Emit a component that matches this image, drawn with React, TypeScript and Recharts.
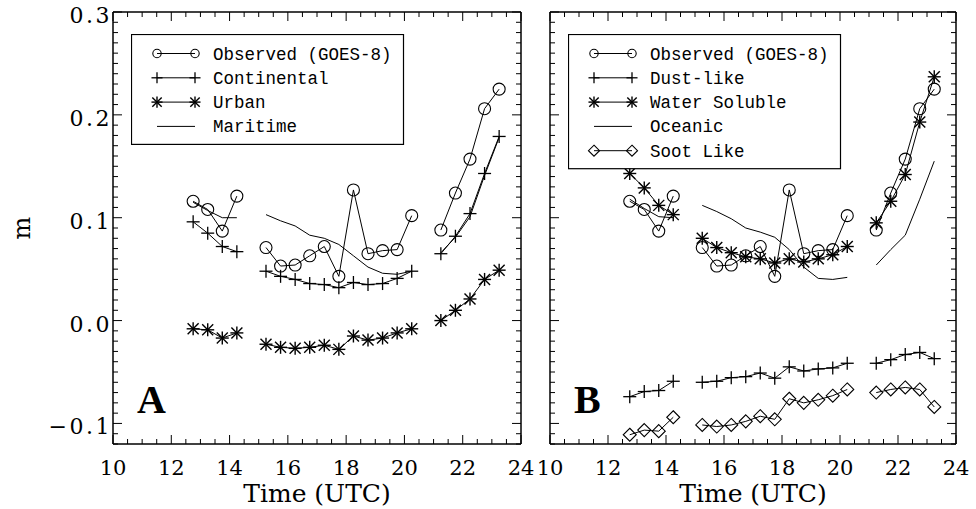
import React from 'react';
import { LineChart, Line, XAxis, YAxis, Legend } from 'recharts';

// ---------------- data ----------------
const times = [12.75, 13.25, 13.75, 14.25, 14.75, 15.25, 15.75, 16.25, 16.75, 17.25, 17.75, 18.25, 18.75, 19.25, 19.75, 20.25, 20.75, 21.25, 21.75, 22.25, 22.75, 23.25];

const observed = [0.116, 0.108, 0.087, 0.121, null, 0.071, 0.053, 0.054, 0.063, 0.072, 0.043, 0.127, 0.065, 0.068, 0.069, 0.102, null, 0.088, 0.124, 0.157, 0.206, 0.225];
const continental = [0.096, 0.085, 0.072, 0.067, null, 0.048, 0.043, 0.040, 0.036, 0.035, 0.032, 0.037, 0.035, 0.036, 0.041, 0.048, null, 0.065, 0.082, 0.104, 0.143, 0.179];
const urban = [-0.008, -0.009, -0.017, -0.012, null, -0.023, -0.026, -0.027, -0.026, -0.024, -0.028, -0.015, -0.019, -0.017, -0.012, -0.008, null, 0.000, 0.010, 0.021, 0.040, 0.049];
const maritime = [0.115, 0.107, 0.100, 0.100, null, 0.103, 0.097, 0.092, 0.083, 0.080, 0.074, 0.063, 0.052, 0.046, 0.045, 0.048, null, 0.066, 0.081, 0.101, 0.141, 0.178];

const dustLike = [-0.074, -0.069, -0.068, -0.059, null, -0.060, -0.059, -0.0555, -0.0545, -0.051, -0.056, -0.045, -0.049, -0.047, -0.046, -0.0415, null, -0.0415, -0.038, -0.033, -0.031, -0.037];
const waterSoluble = [0.143, 0.129, 0.112, 0.103, null, 0.080, 0.071, 0.066, 0.062, 0.060, 0.056, 0.060, 0.057, 0.060, 0.064, 0.072, null, 0.095, 0.116, 0.142, 0.193, 0.237];
const oceanic = [0.118, 0.109, 0.101, 0.100, null, 0.112, 0.106, 0.099, 0.090, 0.086, 0.081, 0.069, 0.052, 0.041, 0.040, 0.042, null, 0.054, 0.069, 0.083, 0.118, 0.155];
const sootLike = [-0.111, -0.1065, -0.1075, -0.094, null, -0.1015, -0.103, -0.1015, -0.098, -0.093, -0.096, -0.076, -0.080, -0.077, -0.073, -0.067, null, -0.070, -0.067, -0.065, -0.067, -0.084];

const xMajorTicks = [10, 12, 14, 16, 18, 20, 22, 24];
const xTickLabels = ['10', '12', '14', '16', '18', '20', '22', '24'];
const yMajorTicks = [-0.1, 0.0, 0.1, 0.2, 0.3];
const yTickLabels = ['\u22120.1', '0.0', '0.1', '0.2', '0.3'];

const leftLegend = [
  { label: 'Observed (GOES-8)', marker: 'circle' },
  { label: 'Continental', marker: 'plus' },
  { label: 'Urban', marker: 'star' },
  { label: 'Maritime', marker: 'none' },
];
const rightLegend = [
  { label: 'Observed (GOES-8)', marker: 'circle' },
  { label: 'Dust-like', marker: 'plus' },
  { label: 'Water Soluble', marker: 'star' },
  { label: 'Oceanic', marker: 'none' },
  { label: 'Soot Like', marker: 'diamond' },
];

// ---------------- layout ----------------
const W = 976;
const H = 509;
const TOP = 12;
const BOTTOM = 444;
const LP = { left: 113, right: 521 };
const RP = { left: 550, right: 956 };
const X_DOMAIN: [number, number] = [10, 24];
const Y_DOMAIN: [number, number] = [-0.12, 0.3];

const xMinor = Array.from({ length: 29 }, (_, i) => 10 + i * 0.5);
const yMinor = Array.from({ length: 43 }, (_, i) => Math.round((-0.12 + i * 0.01) * 100) / 100);

const SERIF = 'DejaVu Serif, serif';
const MONO = 'Liberation Mono, monospace';

const rows = times.map((t, i) => ({
  t,
  observed: observed[i],
  continental: continental[i],
  urban: urban[i],
  maritime: maritime[i],
  dustLike: dustLike[i],
  waterSoluble: waterSoluble[i],
  oceanic: oceanic[i],
  sootLike: sootLike[i],
}));

// ---------------- markers ----------------
function Marker({ cx, cy, kind, k = 1 }: { cx: number; cy: number; kind: string; k?: number }) {
  const sw = 1.1;
  if (kind === 'circle') return <circle cx={cx} cy={cy} r={6 * k} fill="none" stroke="#000" strokeWidth={sw} />;
  if (kind === 'plus') {
    const s = 6.5 * k;
    return (
      <g stroke="#000" strokeWidth={1.3}>
        <line x1={cx - s} x2={cx + s} y1={cy} y2={cy} />
        <line x1={cx} x2={cx} y1={cy - s} y2={cy + s} />
      </g>
    );
  }
  if (kind === 'star') {
    const s = 6.5 * k;
    const d = 5.5 * k;
    return (
      <g stroke="#000" strokeWidth={1.4}>
        <line x1={cx - s} x2={cx + s} y1={cy} y2={cy} />
        <line x1={cx} x2={cx} y1={cy - s} y2={cy + s} />
        <line x1={cx - d} x2={cx + d} y1={cy - d} y2={cy + d} />
        <line x1={cx - d} x2={cx + d} y1={cy + d} y2={cy - d} />
      </g>
    );
  }
  if (kind === 'diamond') {
    const s = 6.5 * k;
    return (
      <polygon
        points={`${cx},${cy - s} ${cx + s},${cy} ${cx},${cy + s} ${cx - s},${cy}`}
        fill="none"
        stroke="#000"
        strokeWidth={sw}
      />
    );
  }
  return <g />;
}

const dotFor = (kind: string) => (p: any) => {
  const key = `d-${kind}-${p.index}`;
  if (p.value == null || p.cy == null || isNaN(p.cy)) return <g key={key} />;
  return (
    <g key={key}>
      <Marker cx={p.cx} cy={p.cy} kind={kind} />
    </g>
  );
};

// ---------------- ticks ----------------
const isMajorX = (v: number) => xMajorTicks.some((m) => Math.abs(m - v) < 1e-6);
const isMajorY = (v: number) => yMajorTicks.some((m) => Math.abs(m - v) < 1e-6);

const bottomTick = (showLabel: boolean) => (p: any) => {
  const v = p.payload.value;
  const major = isMajorX(v);
  const idx = xMajorTicks.findIndex((m) => Math.abs(m - v) < 1e-6);
  return (
    <g>
      <line x1={p.x} x2={p.x} y1={BOTTOM} y2={BOTTOM - (major ? 9 : 5)} stroke="#000" strokeWidth={1} />
      {showLabel && major && (
        <text x={p.x} y={BOTTOM + 31} textAnchor="middle" fontFamily={SERIF} fontSize={21} fill="#000">
          {xTickLabels[idx]}
        </text>
      )}
    </g>
  );
};

const topTick = (p: any) => {
  const major = isMajorX(p.payload.value);
  return <line x1={p.x} x2={p.x} y1={TOP} y2={TOP + (major ? 9 : 5)} stroke="#000" strokeWidth={1} />;
};

const leftTick = (axisX: number, showLabel: boolean) => (p: any) => {
  const v = p.payload.value;
  const major = isMajorY(v);
  const idx = yMajorTicks.findIndex((m) => Math.abs(m - v) < 1e-6);
  return (
    <g>
      <line x1={axisX} x2={axisX + (major ? 9 : 5)} y1={p.y} y2={p.y} stroke="#000" strokeWidth={1} />
      {showLabel && major && (
        <text
          x={axisX - 1}
          y={p.y + 11}
          textAnchor="end"
          fontFamily={SERIF}
          fontSize={22}
          letterSpacing={2.5}
          fill="#000"
        >
          {yTickLabels[idx]}
        </text>
      )}
    </g>
  );
};

const rightTick = (axisX: number) => (p: any) => {
  const major = isMajorY(p.payload.value);
  return <line x1={axisX} x2={axisX - (major ? 9 : 5)} y1={p.y} y2={p.y} stroke="#000" strokeWidth={1} />;
};

// ---------------- legend ----------------
function LegendBox({ items, width }: { items: { label: string; marker: string }[]; width: number }) {
  const rowH = 24.3;
  const height = 19 + (items.length - 1) * rowH + 18;
  return (
    <svg width={width + 2} height={height + 2} style={{ display: 'block' }}>
      <rect x={0.5} y={0.5} width={width} height={height} fill="#fff" stroke="#000" strokeWidth={1.2} />
      {items.map((it, i) => {
        const y = 19.5 + i * rowH;
        return (
          <g key={it.label}>
            <line x1={26} x2={64} y1={y} y2={y} stroke="#000" strokeWidth={1} />
            {it.marker !== 'none' && <Marker cx={26} cy={y} kind={it.marker} k={it.marker === 'circle' ? 0.7 : 0.85} />}
            {it.marker !== 'none' && <Marker cx={64} cy={y} kind={it.marker} k={it.marker === 'circle' ? 0.7 : 0.85} />}
            <text x={82} y={y + 6} fontFamily={MONO} fontSize={17.5} fill="#000">
              {it.label}
            </text>
          </g>
        );
      })}
    </svg>
  );
}

// ---------------- panel ----------------
type SeriesDef = { key: string; marker: string };

const AX = 1; // axis band thickness (must be > 0 for recharts to draw it)

function Panel({
  plot,
  series,
  legendItems,
  letter,
  showYLabels,
}: {
  plot: { left: number; right: number };
  series: SeriesDef[];
  legendItems: { label: string; marker: string }[];
  letter: string;
  showYLabels: boolean;
}) {
  const axisLine = { stroke: '#000', strokeWidth: 1.5 };
  return (
    <div style={{ position: 'absolute', left: 0, top: 0, width: W, height: H }}>
      <LineChart
        width={W}
        height={H}
        data={rows}
        margin={{ top: TOP - AX, bottom: H - BOTTOM - AX, left: plot.left - AX, right: W - plot.right - AX }}
      >
        <XAxis
          xAxisId="b"
          dataKey="t"
          type="number"
          domain={X_DOMAIN}
          allowDataOverflow
          ticks={xMinor}
          interval={0}
          height={AX}
          tickSize={0}
          tickMargin={0}
          tickLine={false}
          axisLine={axisLine}
          tick={bottomTick(true)}
        />
        <XAxis
          xAxisId="t"
          orientation="top"
          dataKey="t"
          type="number"
          domain={X_DOMAIN}
          allowDataOverflow
          ticks={xMinor}
          interval={0}
          height={AX}
          tickSize={0}
          tickMargin={0}
          tickLine={false}
          axisLine={axisLine}
          tick={topTick}
        />
        <YAxis
          yAxisId="l"
          type="number"
          domain={Y_DOMAIN}
          allowDataOverflow
          ticks={yMinor}
          interval={0}
          width={AX}
          tickSize={0}
          tickMargin={0}
          tickLine={false}
          axisLine={axisLine}
          tick={leftTick(plot.left, showYLabels)}
        />
        <YAxis
          yAxisId="r"
          orientation="right"
          type="number"
          domain={Y_DOMAIN}
          allowDataOverflow
          ticks={yMinor}
          interval={0}
          width={AX}
          tickSize={0}
          tickMargin={0}
          tickLine={false}
          axisLine={axisLine}
          tick={rightTick(plot.right)}
        />
        <Legend
          layout="vertical"
          align="center"
          verticalAlign="middle"
          wrapperStyle={{ left: plot.left + 18, top: 34, width: 276, height: 140 }}
          content={() => <LegendBox items={legendItems} width={272} />}
        />
        {series.map((s) => (
          <Line
            key={s.key}
            xAxisId="b"
            yAxisId="l"
            dataKey={s.key}
            type="linear"
            stroke="#000"
            strokeWidth={1}
            connectNulls={false}
            isAnimationActive={false}
            activeDot={false}
            dot={s.marker === 'none' ? false : dotFor(s.marker)}
          />
        ))}
      </LineChart>
      <svg width={W} height={H} style={{ position: 'absolute', left: 0, top: 0, pointerEvents: 'none' }}>
        <text
          x={(plot.left + plot.right) / 2}
          y={502}
          textAnchor="middle"
          fontFamily={SERIF}
          fontSize={25}
          fill="#000"
        >
          Time (UTC)
        </text>
        <text x={plot.left + 24} y={413} fontFamily="Liberation Serif, serif" fontWeight="bold" fontSize={40} fill="#000">
          {letter}
        </text>
        {showYLabels && (
          <text
            x={30}
            y={228}
            textAnchor="middle"
            fontFamily={SERIF}
            fontSize={24}
            fill="#000"
            transform="rotate(-90 30 228)"
          >
            m
          </text>
        )}
      </svg>
    </div>
  );
}

export default function App() {
  return (
    <div style={{ position: 'fixed', left: 0, top: 0, width: W, height: H, background: '#fff', overflow: 'hidden' }}>
      <Panel
        plot={LP}
        letter="A"
        showYLabels
        legendItems={leftLegend}
        series={[
          { key: 'observed', marker: 'circle' },
          { key: 'continental', marker: 'plus' },
          { key: 'urban', marker: 'star' },
          { key: 'maritime', marker: 'none' },
        ]}
      />
      <Panel
        plot={RP}
        letter="B"
        showYLabels={false}
        legendItems={rightLegend}
        series={[
          { key: 'observed', marker: 'circle' },
          { key: 'dustLike', marker: 'plus' },
          { key: 'waterSoluble', marker: 'star' },
          { key: 'oceanic', marker: 'none' },
          { key: 'sootLike', marker: 'diamond' },
        ]}
      />
    </div>
  );
}
